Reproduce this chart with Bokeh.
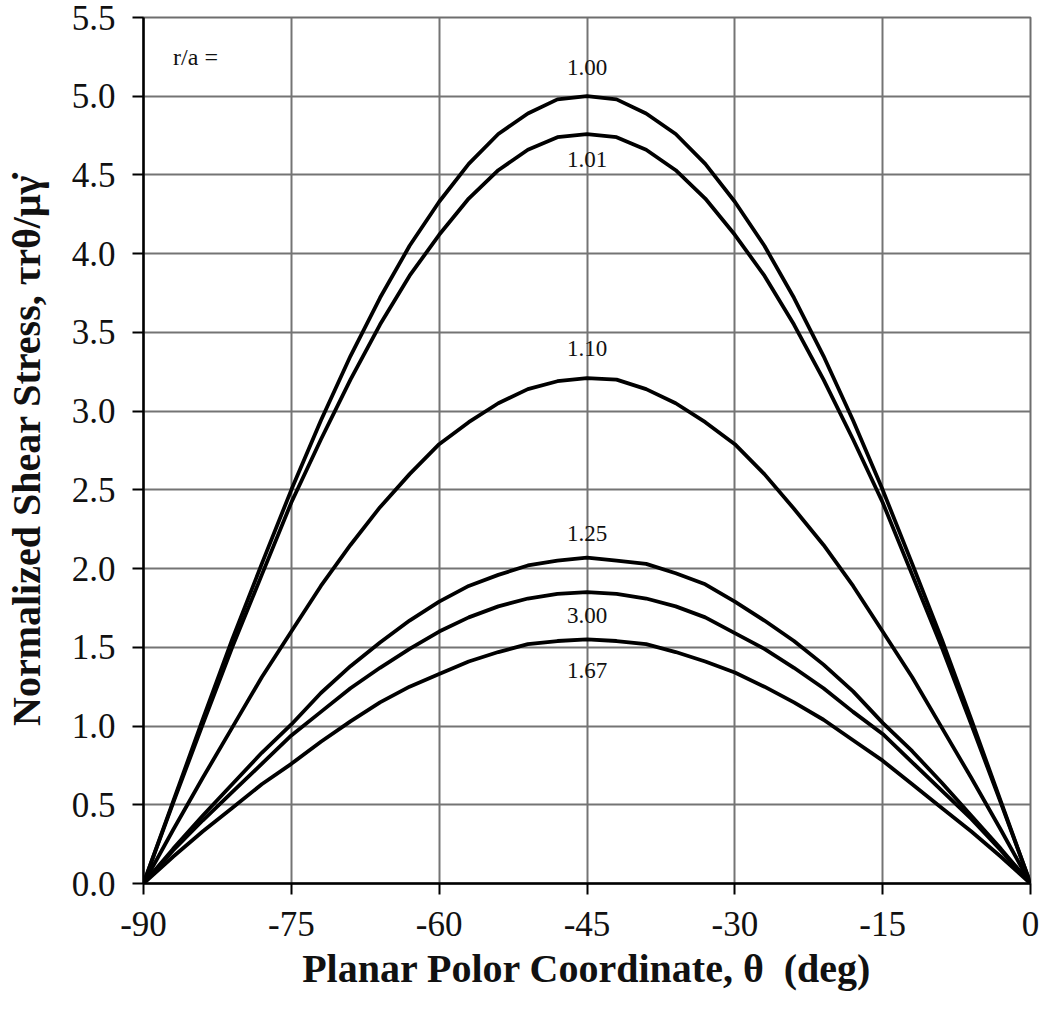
from bokeh.plotting import figure
from bokeh.models import ColumnDataSource, FixedTicker, Label
from bokeh.core.properties import value
from bokeh.embed import file_html
from bokeh.resources import INLINE

# ---------------- data ----------------
theta = [-90, -87, -84, -81, -78, -75, -72, -69, -66, -63, -60, -57, -54, -51, -48,
         -45, -42, -39, -36, -33, -30, -27, -24, -21, -18, -15, -12, -9, -6, -3, 0]

ra_100 = [0.00, 0.52, 1.04, 1.55, 2.03, 2.50, 2.94, 3.35, 3.72, 4.05, 4.33, 4.57, 4.76, 4.89, 4.98,
          5.00, 4.98, 4.89, 4.76, 4.57, 4.33, 4.05, 3.72, 3.35, 2.94, 2.50, 2.03, 1.55, 1.04, 0.52, 0.00]
ra_101 = [0.00, 0.51, 1.01, 1.50, 1.96, 2.42, 2.82, 3.20, 3.55, 3.86, 4.12, 4.35, 4.53, 4.66, 4.74,
          4.76, 4.74, 4.66, 4.53, 4.35, 4.12, 3.86, 3.55, 3.20, 2.82, 2.42, 1.96, 1.50, 1.01, 0.51, 0.00]
ra_110 = [0.00, 0.34, 0.67, 0.99, 1.31, 1.60, 1.89, 2.15, 2.39, 2.60, 2.79, 2.93, 3.05, 3.14, 3.19,
          3.21, 3.20, 3.14, 3.05, 2.93, 2.79, 2.60, 2.38, 2.15, 1.89, 1.60, 1.31, 0.99, 0.67, 0.34, 0.00]
ra_125 = [0.00, 0.22, 0.43, 0.63, 0.83, 1.01, 1.21, 1.38, 1.53, 1.67, 1.79, 1.89, 1.96, 2.02, 2.05,
          2.07, 2.05, 2.03, 1.97, 1.90, 1.79, 1.67, 1.54, 1.39, 1.22, 1.02, 0.84, 0.64, 0.43, 0.22, 0.00]
ra_300 = [0.00, 0.21, 0.40, 0.58, 0.76, 0.94, 1.09, 1.24, 1.37, 1.49, 1.60, 1.69, 1.76, 1.81, 1.84,
          1.85, 1.84, 1.81, 1.76, 1.69, 1.59, 1.49, 1.37, 1.24, 1.09, 0.95, 0.77, 0.59, 0.41, 0.21, 0.00]
ra_167 = [0.00, 0.17, 0.33, 0.48, 0.63, 0.76, 0.90, 1.03, 1.15, 1.25, 1.33, 1.41, 1.47, 1.52, 1.54,
          1.55, 1.54, 1.52, 1.47, 1.41, 1.34, 1.25, 1.15, 1.04, 0.91, 0.78, 0.63, 0.48, 0.33, 0.17, 0.00]

series_names = ["1.00", "1.01", "1.10", "1.25", "3.00", "1.67"]
series_values = [ra_100, ra_101, ra_110, ra_125, ra_300, ra_167]

x_ticks = [-90, -75, -60, -45, -30, -15, 0]
x_tick_labels = ["-90", "-75", "-60", "-45", "-30", "-15", "0"]
y_ticks = [0.0, 0.5, 1.0, 1.5, 2.0, 2.5, 3.0, 3.5, 4.0, 4.5, 5.0, 5.5]
y_tick_labels = ["0.0", "0.5", "1.0", "1.5", "2.0", "2.5", "3.0", "3.5", "4.0", "4.5", "5.0", "5.5"]

curve_label_y = [5.18, 4.60, 3.40, 2.225, 1.70, 1.355]
curve_label_x = -45

x_title = "Planar Polor Coordinate, \u03b8 \u00a0(deg)"
y_title = "Normalized Shear Stress, \u03c4r\u03b8/\u03bc\u03b3\u0307"
legend_title = "r/a ="

# ---------------- figure ----------------
SERIF = "Liberation Serif"

p = figure(width=1042, height=1002, x_range=(-90, 0), y_range=(0, 5.5),
           output_backend="svg", toolbar_location=None,
           min_border_left=143, min_border_right=12, min_border_top=17, min_border_bottom=119)

p.background_fill_color = "white"
p.border_fill_color = "white"
p.outline_line_color = "#6e6e6e"
p.outline_line_width = 2

for name, vals in zip(series_names, series_values):
    src = ColumnDataSource(dict(x=theta, y=vals))
    p.line("x", "y", source=src, line_color="black", line_width=3.8)

lab_src = ColumnDataSource(dict(x=[curve_label_x] * len(series_names), y=curve_label_y, t=series_names))
p.text("x", "y", text="t", source=lab_src, text_font=value(SERIF), text_font_size="23px",
       text_align="center", text_baseline="middle", text_color="#111111")

p.add_layout(Label(x=-87, y=5.25, text=legend_title, text_font=SERIF, text_font_size="24px",
                   text_align="left", text_baseline="middle", text_color="#111111"))

# axes
p.xaxis.ticker = FixedTicker(ticks=x_ticks)
p.yaxis.ticker = FixedTicker(ticks=y_ticks)
p.xaxis.major_label_overrides = dict(zip(x_ticks, x_tick_labels))
p.yaxis.major_label_overrides = dict(zip(y_ticks, y_tick_labels))

for ax in (p.xaxis, p.yaxis):
    ax.axis_line_color = "black"
    ax.axis_line_width = 2.5
    ax.major_tick_line_color = "black"
    ax.major_tick_line_width = 2
    ax.major_tick_in = 0
    ax.major_tick_out = 11
    ax.minor_tick_line_color = None
    ax.major_label_text_font = SERIF
    ax.major_label_text_font_size = "35px"
    ax.major_label_text_color = "#111111"
    ax.axis_label_text_font = SERIF
    ax.axis_label_text_font_size = "40px"
    ax.axis_label_text_font_style = "bold"
    ax.axis_label_text_color = "#111111"

p.xaxis.axis_label = x_title
p.yaxis.axis_label = y_title
p.xaxis.major_label_standoff = 17
p.yaxis.major_label_standoff = 17
p.xaxis.axis_label_standoff = 7
p.yaxis.axis_label_standoff = 20

p.grid.grid_line_color = "#747474"
p.grid.grid_line_width = 2

open("out.html", "w").write(file_html(p, INLINE))
